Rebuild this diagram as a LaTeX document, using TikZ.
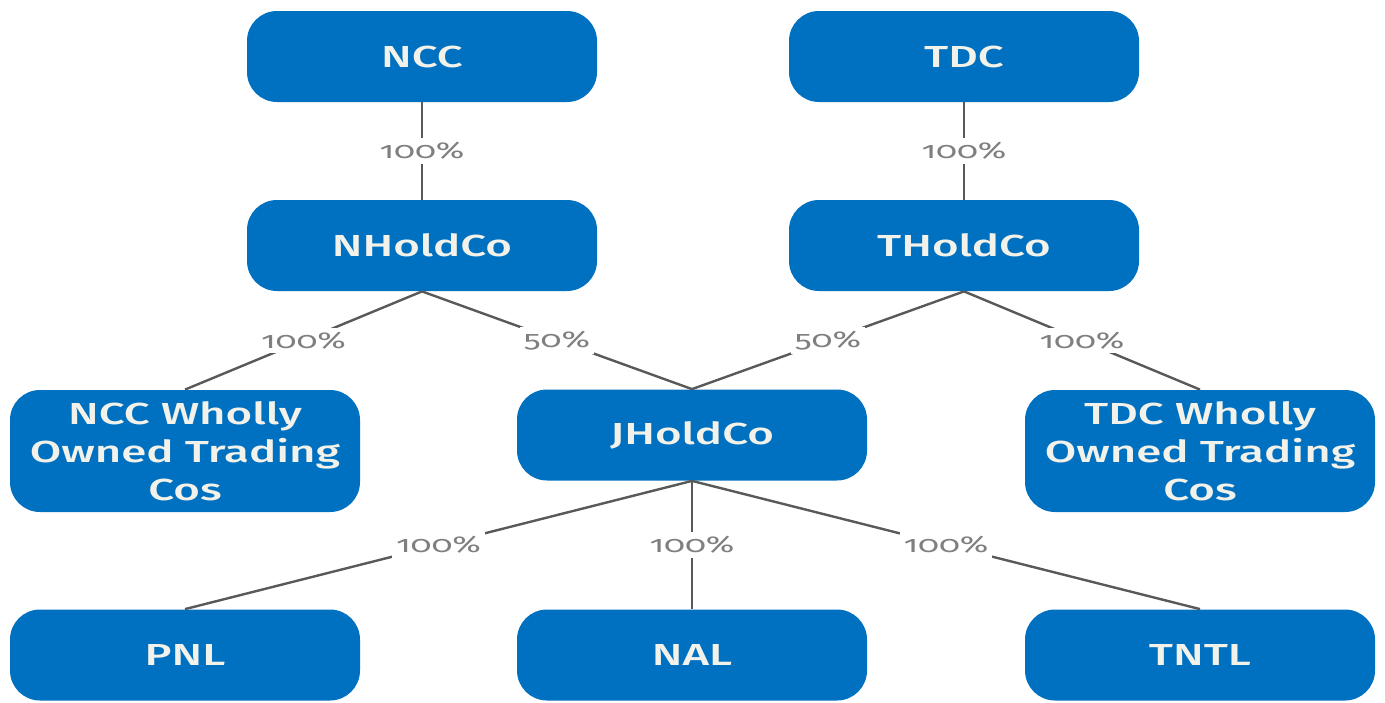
\documentclass[tikz,border=0pt]{standalone}
\usepackage{fontspec}
\setmainfont{Fira Sans}[FakeStretch=1.5]
\newfontfamily\boxfont{Fira Sans Medium}[FakeStretch=1.5]
\newfontfamily\labfont{Fira Sans}[FakeStretch=1.5,Numbers=OldStyle]
\definecolor{boxblue}{HTML}{0070C0}
\definecolor{boxtext}{HTML}{F2F2EA}
\definecolor{linegray}{HTML}{595959}
\definecolor{labgray}{HTML}{7F7F7F}
\begin{document}
\begin{tikzpicture}[x=0.5pt,y=-0.5pt,
  box/.style={rectangle, rounded corners=15pt, fill=boxblue, text=boxtext,
    minimum width=175pt, minimum height=45.5pt, align=center, inner sep=0pt,
    font=\boxfont\fontsize{15.2}{19}\selectfont},
  tallbox/.style={box, minimum height=61pt},
  link/.style={draw=linegray, line width=1.2pt},
  pct/.style={fill=white, text=labgray, inner sep=2pt,
    font=\labfont\fontsize{11.5}{13}\selectfont}]
\useasboundingbox (0,0) rectangle (1385,702);
\node[box] (ncc) at (422,56.5) {NCC};
\node[box] (tdc) at (964,56.5) {TDC};
\node[box] (nh) at (422,245.5) {NHoldCo};
\node[box] (th) at (964,245.5) {THoldCo};
\node[tallbox] (nw) at (185,451) {NCC Wholly\\Owned Trading\\Cos};
\node[box] (jh) at (692,435) {JHoldCo};
\node[tallbox] (tw) at (1200,451) {TDC Wholly\\Owned Trading\\Cos};
\node[box] (pnl) at (185,655) {PNL};
\node[box] (nal) at (692,655) {NAL};
\node[box] (tntl) at (1200,655) {TNTL};
\draw[link] (ncc.south) -- node[pct]{100\%} (nh.north);
\draw[link] (tdc.south) -- node[pct]{100\%} (th.north);
\draw[link] (nh.south) -- node[pct]{100\%} (nw.north);
\draw[link] (nh.south) -- node[pct]{50\%} (jh.north);
\draw[link] (th.south) -- node[pct]{50\%} (jh.north);
\draw[link] (th.south) -- node[pct]{100\%} (tw.north);
\draw[link] (jh.south) -- node[pct]{100\%} (pnl.north);
\draw[link] (jh.south) -- node[pct]{100\%} (nal.north);
\draw[link] (jh.south) -- node[pct]{100\%} (tntl.north);
\end{tikzpicture}
\end{document}
